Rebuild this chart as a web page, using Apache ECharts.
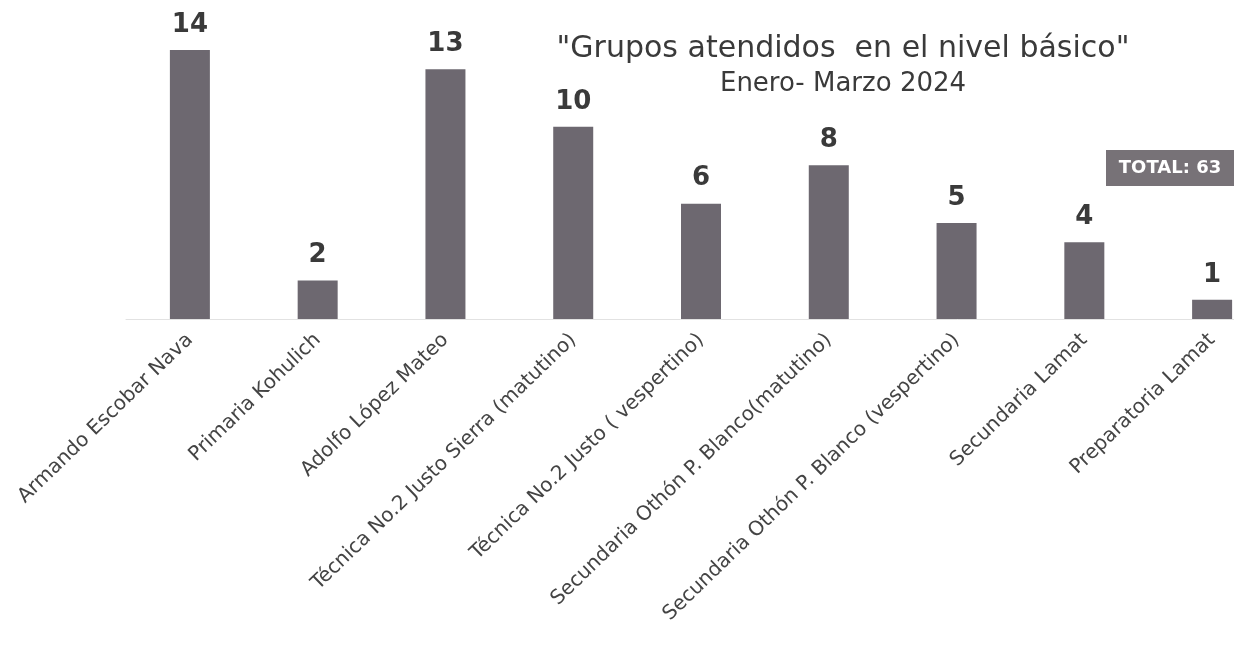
<!DOCTYPE html>
<html>
<head>
<meta charset="utf-8">
<script src="https://cdn.jsdelivr.net/npm/echarts@6/dist/echarts.min.js"></script>
<style>
html,body{margin:0;padding:0;background:#fff;}
#chart{width:1234px;height:645px;}
</style>
</head>
<body>
<div id="chart"></div>
<script>
var categories = [
  "Armando Escobar Nava",
  "Primaria Kohulich",
  "Adolfo López Mateo",
  "Técnica No.2 Justo Sierra (matutino)",
  "Técnica No.2 Justo ( vespertino)",
  "Secundaria Othón P. Blanco(matutino)",
  "Secundaria Othón P. Blanco (vespertino)",
  "Secundaria Lamat",
  "Preparatoria Lamat"
];
var values = [14, 2, 13, 10, 6, 8, 5, 4, 1];
var titleText = "\"Grupos atendidos  en el nivel básico\"";
var subtitleText = "Enero- Marzo 2024";
var totalText = "TOTAL: 63";

var chart = echarts.init(document.getElementById('chart'));
chart.setOption({
  backgroundColor: '#ffffff',
  animation: false,
  title: [{
    text: titleText,
    left: 838,
    top: 29,
    textAlign: 'center',
    textStyle: {fontFamily: 'DejaVu Sans', fontSize: 30, fontWeight: 'normal', color: '#3a3a3a'}
  }, {
    text: subtitleText,
    left: 838,
    top: 66,
    textAlign: 'center',
    textStyle: {fontFamily: 'DejaVu Sans', fontSize: 26, fontWeight: 'normal', color: '#3a3a3a'}
  }],
  graphic: [{
    type: 'group',
    left: 1106,
    top: 150,
    children: [{
      type: 'rect',
      shape: {x: 0, y: 0, width: 128, height: 36},
      style: {fill: '#777277'}
    }, {
      type: 'text',
      x: 64, y: 18,
      style: {text: totalText, fill: '#ffffff', font: 'bold 18px "DejaVu Sans"', textAlign: 'center', textVerticalAlign: 'middle'}
    }]
  }],
  grid: {left: 126, width: 1150, top: 50, height: 269, containLabel: false, outerBoundsMode: 'none'},
  xAxis: {
    type: 'category',
    data: categories,
    axisLine: {show: true, lineStyle: {color: '#e2e2e2', width: 1}},
    axisTick: {show: false},
    axisLabel: {
      interval: 0,
      rotate: 44,
      margin: 18,
      fontFamily: 'DejaVu Sans',
      fontSize: 20,
      color: '#444444'
    }
  },
  yAxis: {
    type: 'value',
    min: 0,
    max: 14,
    show: false,
    splitLine: {show: false}
  },
  series: [{
    type: 'bar',
    data: values,
    barWidth: 40,
    itemStyle: {color: '#6d6870'},
    label: {
      show: true,
      position: 'top',
      distance: 12,
      fontFamily: 'DejaVu Sans',
      fontSize: 26,
      fontWeight: 'bold',
      color: '#3a3a3a'
    }
  }]
});
</script>
</body>
</html>
